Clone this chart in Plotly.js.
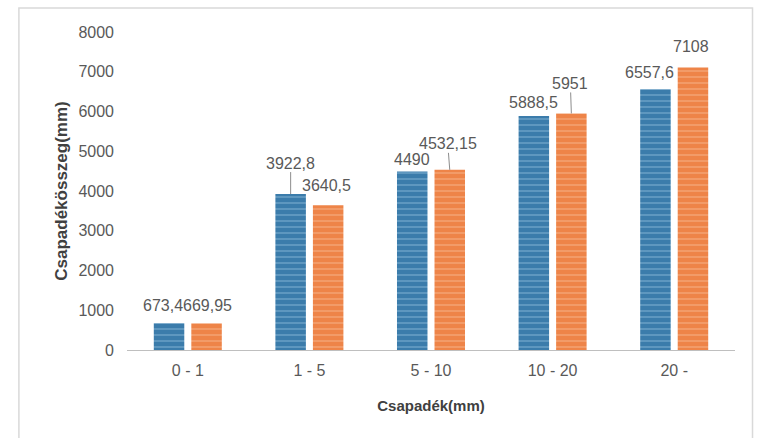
<!DOCTYPE html>
<html>
<head>
<meta charset="utf-8">
<script src="https://cdn.plot.ly/plotly-3.0.1.min.js"></script>
<style>
  html, body { margin: 0; padding: 0; background: #ffffff; }
  #chart { width: 758px; height: 438px; }
</style>
</head>
<body>
<div id="chart"></div>
<script>
// ---- data ----
const categories = ['0 - 1', '1 - 5', '5 - 10', '10 - 20', '20 -'];
const seriesA = [673.4, 3922.8, 4490, 5888.5, 6557.6];
const seriesB = [669.95, 3640.5, 4532.15, 5951, 7108];
const labelsA = ['673,4', '3922,8', '4490', '5888,5', '6557,6'];
const labelsB = ['669,95', '3640,5', '4532,15', '5951', '7108'];
const yTicks = [0, 1000, 2000, 3000, 4000, 5000, 6000, 7000, 8000];

// ---- label placement (pixel offsets from bar top centre) ----
const offA = [[-6, -18, false], [0, -31, true], [0, -12, false], [0, -13, false], [-6, -17, false]];
const offB = [[1, -18, false], [-2, -20, false], [-2, -26, true], [-1, -30, true], [-2, -21, false]];

const font = 'Liberation Sans, Arial, sans-serif';
const textGray = '#595959';
const barShift = 18.75;

const traceA = {
  type: 'bar', x: categories, y: seriesA, name: 'A',
  marker: { color: '#3b7cab', line: { width: 0 },
    pattern: { shape: '-', fgcolor: 'rgba(170,210,235,0.7)', size: 6, solidity: 0.3, fillmode: 'overlay' } },
  hoverinfo: 'skip'
};
const traceB = {
  type: 'bar', x: categories, y: seriesB, name: 'B',
  marker: { color: '#ee8448', line: { width: 0 },
    pattern: { shape: '-', fgcolor: 'rgba(252,205,175,0.7)', size: 6, solidity: 0.3, fillmode: 'overlay' } },
  hoverinfo: 'skip'
};

function makeAnn(cat, val, txt, off, shift) {
  return {
    x: cat, y: val, xref: 'x', yref: 'y', text: txt,
    xshift: shift, showarrow: true, ax: off[0], ay: off[1],
    arrowhead: 0, arrowwidth: 1, standoff: 0, startstandoff: 0,
    arrowcolor: off[2] ? '#8c8c8c' : 'rgba(0,0,0,0)',
    font: { family: font, size: 16, color: textGray },
    borderpad: 0
  };
}
const annotations = [];
categories.forEach((c, i) => {
  annotations.push(makeAnn(c, seriesA[i], labelsA[i], offA[i], -barShift));
  annotations.push(makeAnn(c, seriesB[i], labelsB[i], offB[i], barShift));
});

const layout = {
  width: 758, height: 438,
  margin: { l: 127, r: 23, t: 32, b: 88 },
  paper_bgcolor: '#ffffff', plot_bgcolor: '#ffffff',
  showlegend: false,
  barmode: 'group', bargap: 0.383, bargroupgap: 0.187,
  font: { family: font, color: textGray },
  xaxis: {
    type: 'category', showline: true, linecolor: '#bfbfbf', linewidth: 1,
    showgrid: false, zeroline: false, ticks: '',
    tickfont: { family: font, size: 16, color: textGray },
    ticklabelstandoff: 6,
    title: { text: 'Csapadék(mm)', font: { family: font, size: 15, color: '#404040', weight: 'bold' }, standoff: 22 }
  },
  yaxis: {
    range: [0, 8000], tickvals: yTicks, ticktext: yTicks.map(String),
    showline: false, showgrid: false, zeroline: false, ticks: '',
    tickfont: { family: font, size: 16, color: textGray },
    ticklabelstandoff: 12,
    title: { text: 'Csapadékösszeg(mm)', font: { family: font, size: 17, color: '#404040', weight: 'bold' }, standoff: 6 }
  },
  shapes: [{
    type: 'rect', xref: 'paper', yref: 'paper',
    x0: -0.1778, x1: 1.0288, y0: -0.285, y1: 1.0755,
    line: { color: '#d9d9d9', width: 1.5 }, fillcolor: 'rgba(0,0,0,0)', layer: 'below'
  }],
  annotations: annotations
};

Plotly.newPlot('chart', [traceA, traceB], layout, { displayModeBar: false, staticPlot: true });
</script>
</body>
</html>
